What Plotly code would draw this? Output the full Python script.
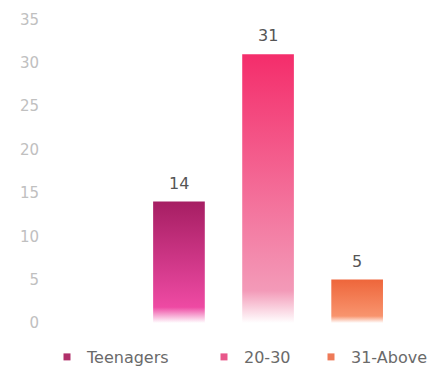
import plotly.graph_objects as go

# Respondents per age group
categories = ["Teenagers", "20-30", "31-Above"]
counts = [14, 31, 5]
y_ticks = [0, 5, 10, 15, 20, 25, 30, 35]

# Gradient colours per bar (top -> bottom) and legend swatch colours
top_colors = ["#a61e63", "#f42d6b", "#ee663b"]
bottom_colors = ["#ee4aa3", "#f39ab8", "#f8946e"]
legend_colors = ["#b0306a", "#e8578a", "#ee7a58"]
fade_stops = [0.13, 0.12, 0.16]

BAR_WIDTH = 0.58
FONT = "DejaVu Sans, Arial"

fig = go.Figure()

for i, (cat, v) in enumerate(zip(categories, counts)):
    x0, x1 = i - BAR_WIDTH / 2, i + BAR_WIDTH / 2
    fig.add_trace(go.Scatter(
        x=[x0, x1, x1, x0, x0],
        y=[0, 0, v, v, 0],
        mode="lines",
        line=dict(width=0),
        fill="toself",
        fillgradient=dict(
            type="vertical",
            colorscale=[[0, "rgba(255,255,255,1)"],
                        [fade_stops[i], bottom_colors[i]],
                        [1, top_colors[i]]],
        ),
        showlegend=False,
        hoverinfo="skip",
    ))

# One legend per group so each entry sits under its own column
legend_names = ["legend", "legend2", "legend3"]
legend_x = [47, 204, 311]
for cat, c, lg in zip(categories, legend_colors, legend_names):
    fig.add_trace(go.Scatter(
        x=[None], y=[None], mode="markers", name=cat, legend=lg,
        marker=dict(symbol="square", size=7, color=c),
    ))

# Value labels above bars
for i, v in enumerate(counts):
    fig.add_annotation(
        x=i, y=v, text=str(v), showarrow=False,
        yanchor="bottom", yshift=7,
        font=dict(family=FONT, size=16, color="#555555"),
    )

legend_style = dict(
    orientation="h", xref="container", yref="container",
    xanchor="left", yanchor="middle", y=1 - 357 / 375,
    font=dict(family=FONT, size=16, color="#6a6a6a"),
    itemwidth=30, bgcolor="rgba(0,0,0,0)",
)
layout_legends = {
    lg: dict(legend_style, x=lx / 446) for lg, lx in zip(legend_names, legend_x)
}

fig.update_layout(
    width=446, height=375,
    margin=dict(l=48, r=6, t=15, b=45),
    paper_bgcolor="white", plot_bgcolor="white",
    xaxis=dict(visible=False, range=[-1.47, 2.93]),
    yaxis=dict(
        range=[-0.81, 35.52], tickvals=y_ticks,
        showgrid=False, zeroline=False, showline=False,
        tickfont=dict(family=FONT, size=15, color="#c0c0c0"),
        ticklabelstandoff=8,
    ),
    showlegend=True,
    **layout_legends,
)

fig.write_html("out.html")
